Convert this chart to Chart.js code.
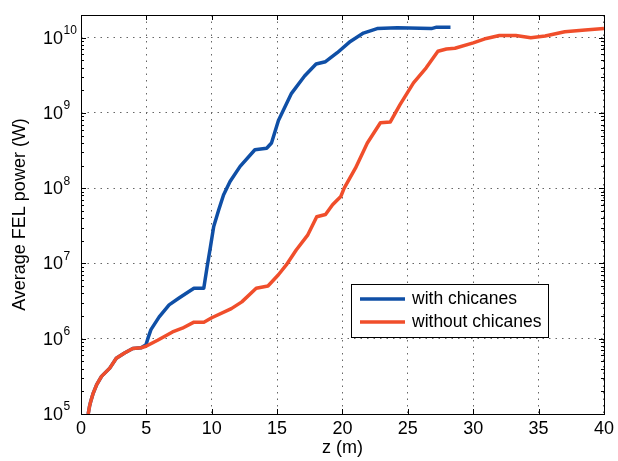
<!DOCTYPE html>
<html>
<head>
<meta charset="utf-8">
<script src="https://cdn.jsdelivr.net/npm/chart.js@4.4.0/dist/chart.umd.min.js"></script>
<style>
html, body { margin: 0; padding: 0; background: #fff; }
</style>
</head>
<body>
<canvas id="myChart" width="618" height="461"></canvas>
<script>
// Data (z in m, power in W)
const zWith = [0.55, 0.65, 0.75, 0.93, 1.2, 1.57, 2.2, 2.7, 3.33, 3.96, 4.6, 4.97, 5.15, 5.35, 5.98, 6.74, 7.5, 8.64, 9.39, 9.65, 9.9, 10.15, 10.53,
    10.9, 11.4, 12.17, 13.3, 14.2, 14.57, 14.8, 15.1, 16.1, 17.1, 17.98, 18.7, 19.6, 20.6, 21.6, 22.65, 24.2, 26.8, 27.2, 28.26];
const pWith = [1.0e5, 1.26e5, 1.48e5, 1.88e5, 2.45e5, 3.16e5, 4.07e5, 5.5e5, 6.46e5, 7.41e5, 7.59e5, 8.3e5, 1.05e6, 1.32e6, 1.95e6, 2.82e6, 3.47e6, 4.68e6, 4.68e6, 9.12e6, 1.66e7, 3.09e7, 5.13e7,
    8.13e7, 1.23e8, 1.95e8, 3.24e8, 3.39e8, 3.98e8, 5.37e8, 7.94e8, 1.82e9, 3.09e9, 4.47e9, 4.79e9, 6.31e9, 8.91e9, 1.15e10, 1.32e10, 1.35e10, 1.32e10, 1.38e10, 1.38e10];

const zWithout = [0.55, 0.65, 0.75, 0.93, 1.2, 1.57, 2.2, 2.7, 3.33, 3.96, 4.6, 4.97, 5.86, 7.0, 7.75, 8.64, 9.4, 10.0, 11.5, 12.3, 13.4, 14.3,
    15.1, 15.7, 16.46, 17.35, 18.03, 18.7, 19.24, 19.87, 20.13, 21.0, 21.9, 22.9, 23.66, 24.4, 25.43, 26.4, 27.3, 27.95, 28.6,
    30.0, 31.0, 32.0, 33.26, 34.4, 35.5, 37.0, 38.56, 40.0];
const pWithout = [1.0e5, 1.26e5, 1.48e5, 1.88e5, 2.45e5, 3.16e5, 4.07e5, 5.5e5, 6.46e5, 7.41e5, 7.59e5, 7.94e5, 9.55e5, 1.23e6, 1.38e6, 1.66e6, 1.66e6, 1.9e6, 2.51e6, 3.09e6, 4.68e6, 5.01e6,
    7.08e6, 9.55e6, 1.51e7, 2.4e7, 4.17e7, 4.47e7, 6.03e7, 7.76e7, 1.0e8, 1.86e8, 3.98e8, 7.41e8, 7.59e8, 1.29e9, 2.51e9, 3.98e9, 6.61e9, 7.08e9, 7.24e9,
    8.51e9, 9.77e9, 1.07e10, 1.07e10, 1.0e10, 1.05e10, 1.2e10, 1.26e10, 1.32e10];

const seriesLabels = ['with chicanes', 'without chicanes'];
const xTicks = [0, 5, 10, 15, 20, 25, 30, 35, 40];
const yTicks = [1e5, 1e6, 1e7, 1e8, 1e9, 1e10];

const FONT = "'Liberation Sans', Helvetica, Arial, sans-serif";
const BLUE = '#0f4fa6';
const RED = '#f04e2b';

// MATLAB-style box, inward ticks, 10^n labels
const axesBox = {
    id: 'axesBox',
    afterDatasetsDraw(chart) {
        const { ctx, chartArea: a, scales: { x, y } } = chart;
        ctx.save();
        ctx.strokeStyle = '#000';
        ctx.lineWidth = 1;
        ctx.strokeRect(Math.round(a.left) + 0.5, Math.round(a.top) + 0.5,
            Math.round(a.right - a.left), Math.round(a.bottom - a.top));

        ctx.beginPath();
        xTicks.forEach(v => {
            const px = Math.round(x.getPixelForValue(v)) + 0.5;
            ctx.moveTo(px, a.bottom); ctx.lineTo(px, a.bottom - 5);
            ctx.moveTo(px, a.top); ctx.lineTo(px, a.top + 5);
        });
        for (let e = 5; e <= 10; e++) {
            for (let m = 1; m <= 9; m++) {
                const v = m * Math.pow(10, e);
                if (v > y.max) break;
                const py = Math.round(y.getPixelForValue(v)) + 0.5;
                const len = m === 1 ? 5 : 3;
                ctx.moveTo(a.left, py); ctx.lineTo(a.left + len, py);
                ctx.moveTo(a.right, py); ctx.lineTo(a.right - len, py);
            }
        }
        ctx.stroke();

        // y labels as 10 with a raised exponent
        ctx.fillStyle = '#000';
        ctx.textBaseline = 'middle';
        yTicks.forEach(v => {
            const py = y.getPixelForValue(v);
            const exp = Math.round(Math.log10(v));
            const xr = a.left - 18;
            ctx.font = '18px ' + FONT;
            ctx.textAlign = 'right';
            ctx.fillText('10', xr, py + 1);
            ctx.font = '12px ' + FONT;
            ctx.textAlign = 'left';
            ctx.fillText(String(exp), xr + 0.5, py - 7);
        });
        ctx.restore();
    },
    afterDraw(chart) {
        const { ctx, chartArea: a } = chart;
        const bx = a.left + 270, by = a.top + 269, bw = 197, bh = 53;
        ctx.save();
        ctx.fillStyle = '#fff';
        ctx.fillRect(bx, by, bw, bh);
        ctx.strokeStyle = '#000';
        ctx.lineWidth = 1;
        ctx.strokeRect(bx + 0.5, by + 0.5, bw, bh);
        ctx.font = '17.5px ' + FONT;
        ctx.textBaseline = 'middle';
        ctx.textAlign = 'left';
        chart.data.datasets.forEach((ds, i) => {
            const ry = by + 15 + i * 23;
            ctx.strokeStyle = ds.borderColor;
            ctx.lineWidth = 3.5;
            ctx.beginPath();
            ctx.moveTo(bx + 9, ry);
            ctx.lineTo(bx + 54, ry);
            ctx.stroke();
            ctx.fillStyle = '#000';
            ctx.fillText(ds.label, bx + 61, ry);
        });
        ctx.restore();
    }
};

const ctx = document.getElementById('myChart').getContext('2d');
new Chart(ctx, {
    type: 'line',
    data: {
        datasets: [
            {
                label: seriesLabels[0],
                data: zWith.map((z, i) => ({ x: z, y: pWith[i] })),
                borderColor: BLUE,
                backgroundColor: BLUE,
                borderWidth: 3.5,
                borderJoinStyle: 'round',
                pointRadius: 0,
                tension: 0,
                order: 1
            },
            {
                label: seriesLabels[1],
                data: zWithout.map((z, i) => ({ x: z, y: pWithout[i] })),
                borderColor: RED,
                backgroundColor: RED,
                borderWidth: 3.5,
                borderJoinStyle: 'round',
                pointRadius: 0,
                tension: 0,
                order: 0
            }
        ]
    },
    options: {
        responsive: false,
        animation: false,
        layout: { padding: { top: 15, right: 9, bottom: 0, left: 0 } },
        scales: {
            x: {
                type: 'linear',
                min: 0,
                max: 40,
                afterBuildTicks: s => { s.ticks = xTicks.map(v => ({ value: v })); },
                afterFit: s => { s.height = 47; },
                ticks: {
                    color: '#000',
                    font: { family: FONT, size: 18 },
                    padding: 4,
                    maxRotation: 0,
                    autoSkip: false
                },
                grid: { color: '#666', lineWidth: 1, drawTicks: false },
                border: { display: false, dash: [1.5, 5] },
                title: {
                    display: true,
                    text: 'z (m)',
                    color: '#000',
                    font: { family: FONT, size: 18 },
                    padding: { top: 0, bottom: 2 }
                }
            },
            y: {
                type: 'logarithmic',
                min: 1e5,
                max: 2e10,
                afterBuildTicks: s => { s.ticks = yTicks.map(v => ({ value: v })); },
                afterFit: s => { s.width = 81; },
                ticks: { display: false },
                grid: { color: '#666', lineWidth: 1, drawTicks: false },
                border: { display: false, dash: [1.5, 5] },
                title: {
                    display: true,
                    text: 'Average FEL power (W)',
                    color: '#000',
                    font: { family: FONT, size: 18 },
                    padding: { top: 9, bottom: 0 }
                }
            }
        },
        plugins: {
            legend: { display: false },
            tooltip: { enabled: false }
        }
    },
    plugins: [axesBox]
});
</script>
</body>
</html>
